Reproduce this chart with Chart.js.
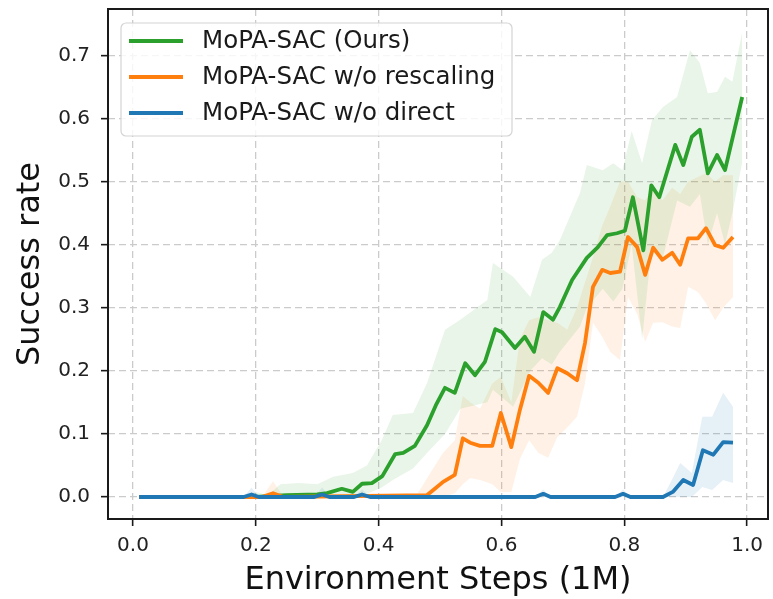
<!DOCTYPE html>
<html>
<head>
<meta charset="utf-8">
<script src="https://cdn.jsdelivr.net/npm/chart.js@4.4.1/dist/chart.umd.min.js"></script>
<style>
  html, body { margin: 0; padding: 0; background: #ffffff; }
  #wrap { width: 773px; height: 599px; }
</style>
</head>
<body>
<div id="wrap"><canvas id="c" width="773" height="599"></canvas></div>
<script>
// ---- axis ticks ----
const xTickValues = [0.0, 0.2, 0.4, 0.6, 0.8, 1.0];
const yTickValues = [0.0, 0.1, 0.2, 0.3, 0.4, 0.5, 0.6, 0.7];

// ---- series names ----
const seriesNames = ['MoPA-SAC (Ours)', 'MoPA-SAC w/o rescaling', 'MoPA-SAC w/o direct'];
const seriesColors = ['#2ca02c', '#ff7f0e', '#1f77b4'];

// ---- MoPA-SAC (Ours): mean curve (steps in millions) ----
const oursSteps = [0.01, 0.20, 0.25, 0.30, 0.316, 0.340, 0.358, 0.373, 0.389, 0.406, 0.427, 0.440, 0.459, 0.479, 0.493, 0.508, 0.524, 0.541, 0.557, 0.573, 0.590, 0.601, 0.622, 0.638, 0.653, 0.668, 0.684, 0.695, 0.715, 0.739, 0.757, 0.772, 0.788, 0.801, 0.814, 0.831, 0.844, 0.857, 0.883, 0.896, 0.910, 0.923, 0.936, 0.951, 0.964, 0.992];
const oursMean  = [0.000, 0.000, 0.003, 0.004, 0.006, 0.013, 0.008, 0.021, 0.022, 0.033, 0.068, 0.070, 0.081, 0.114, 0.145, 0.173, 0.165, 0.212, 0.193, 0.214, 0.266, 0.261, 0.236, 0.254, 0.230, 0.293, 0.281, 0.301, 0.344, 0.379, 0.396, 0.415, 0.418, 0.422, 0.475, 0.391, 0.494, 0.475, 0.558, 0.526, 0.571, 0.582, 0.513, 0.542, 0.518, 0.634];
// spread band
const oursBandSteps = [0.01, 0.18, 0.20, 0.22, 0.24, 0.27, 0.30, 0.326, 0.358, 0.381, 0.405, 0.423, 0.456, 0.479, 0.508, 0.533, 0.577, 0.586, 0.619, 0.647, 0.666, 0.682, 0.695, 0.728, 0.739, 0.765, 0.782, 0.797, 0.812, 0.829, 0.845, 0.863, 0.886, 0.907, 0.923, 0.936, 0.951, 0.964, 0.976, 0.992];
const oursUpper = [0.002, 0.002, 0.008, 0.003, 0.020, 0.022, 0.020, 0.032, 0.038, 0.050, 0.090, 0.130, 0.133, 0.181, 0.265, 0.281, 0.312, 0.371, 0.349, 0.317, 0.376, 0.387, 0.407, 0.482, 0.526, 0.518, 0.529, 0.518, 0.580, 0.529, 0.597, 0.618, 0.634, 0.708, 0.688, 0.640, 0.642, 0.666, 0.658, 0.737];
const oursLower = [0.000, 0.000, 0.000, 0.000, 0.000, 0.000, 0.000, 0.000, 0.000, 0.005, 0.015, 0.027, 0.045, 0.070, 0.100, 0.140, 0.150, 0.170, 0.143, 0.200, 0.220, 0.210, 0.230, 0.270, 0.300, 0.330, 0.310, 0.330, 0.400, 0.250, 0.400, 0.380, 0.470, 0.460, 0.480, 0.400, 0.450, 0.400, 0.450, 0.530];

// ---- MoPA-SAC w/o rescaling ----
const rescaleSteps = [0.01, 0.21, 0.228, 0.245, 0.479, 0.489, 0.505, 0.524, 0.537, 0.549, 0.565, 0.585, 0.599, 0.616, 0.630, 0.645, 0.660, 0.676, 0.691, 0.707, 0.723, 0.736, 0.749, 0.764, 0.777, 0.793, 0.806, 0.821, 0.834, 0.847, 0.862, 0.878, 0.891, 0.904, 0.920, 0.933, 0.948, 0.961, 0.977];
const rescaleMean  = [0.000, 0.000, 0.006, 0.000, 0.003, 0.011, 0.024, 0.035, 0.093, 0.086, 0.081, 0.081, 0.133, 0.079, 0.138, 0.192, 0.181, 0.165, 0.204, 0.196, 0.185, 0.244, 0.333, 0.360, 0.355, 0.357, 0.412, 0.396, 0.352, 0.395, 0.376, 0.387, 0.368, 0.410, 0.410, 0.426, 0.399, 0.395, 0.412];
const rescaleBandSteps = [0.01, 0.21, 0.228, 0.245, 0.46, 0.479, 0.505, 0.524, 0.537, 0.549, 0.565, 0.585, 0.599, 0.616, 0.630, 0.645, 0.660, 0.676, 0.691, 0.707, 0.723, 0.736, 0.749, 0.764, 0.777, 0.793, 0.806, 0.821, 0.834, 0.847, 0.862, 0.878, 0.891, 0.904, 0.920, 0.933, 0.948, 0.961, 0.977];
const rescaleUpper = [0.000, 0.000, 0.025, 0.000, 0.000, 0.030, 0.070, 0.090, 0.160, 0.150, 0.140, 0.180, 0.190, 0.150, 0.250, 0.280, 0.285, 0.280, 0.276, 0.265, 0.300, 0.340, 0.380, 0.430, 0.460, 0.500, 0.500, 0.475, 0.470, 0.490, 0.470, 0.490, 0.480, 0.500, 0.507, 0.513, 0.500, 0.510, 0.510];
const rescaleLower = [0.000, 0.000, 0.000, 0.000, 0.000, 0.000, 0.000, 0.006, 0.020, 0.030, 0.027, 0.020, 0.008, 0.008, 0.060, 0.090, 0.070, 0.062, 0.095, 0.110, 0.127, 0.180, 0.276, 0.254, 0.230, 0.217, 0.317, 0.290, 0.246, 0.276, 0.277, 0.270, 0.268, 0.333, 0.325, 0.307, 0.280, 0.300, 0.317];

// ---- MoPA-SAC w/o direct ----
const directSteps = [0.01, 0.18, 0.193, 0.205, 0.295, 0.308, 0.32, 0.36, 0.373, 0.386, 0.655, 0.668, 0.68, 0.785, 0.798, 0.81, 0.863, 0.879, 0.896, 0.912, 0.928, 0.945, 0.961, 0.977];
const directMean  = [0.000, 0.000, 0.004, 0.000, 0.000, 0.004, 0.000, 0.000, 0.004, 0.000, 0.000, 0.005, 0.000, 0.000, 0.005, 0.000, 0.000, 0.008, 0.027, 0.019, 0.074, 0.067, 0.087, 0.086];
const directBandSteps = [0.01, 0.18, 0.193, 0.205, 0.295, 0.308, 0.32, 0.36, 0.373, 0.386, 0.655, 0.668, 0.68, 0.785, 0.798, 0.81, 0.863, 0.879, 0.891, 0.910, 0.927, 0.943, 0.961, 0.977];
const directUpper = [0.000, 0.000, 0.015, 0.000, 0.000, 0.015, 0.000, 0.000, 0.012, 0.000, 0.000, 0.012, 0.000, 0.000, 0.012, 0.000, 0.000, 0.030, 0.054, 0.038, 0.127, 0.127, 0.165, 0.143];
const directLower = [0.000, 0.000, 0.000, 0.000, 0.000, 0.000, 0.000, 0.000, 0.000, 0.000, 0.000, 0.000, 0.000, 0.000, 0.000, 0.000, 0.000, 0.000, 0.000, 0.000, 0.016, 0.011, 0.027, 0.022];

// ---- helpers ----
function toPoints(xs, ys) {
  return xs.map((x, i) => ({ x: x, y: ys[i] }));
}
function hexToRgba(hex, a) {
  const n = parseInt(hex.slice(1), 16);
  return 'rgba(' + ((n >> 16) & 255) + ',' + ((n >> 8) & 255) + ',' + (n & 255) + ',' + a + ')';
}
function bandPair(xs, up, lo, color) {
  return [
    { data: toPoints(xs, up), borderWidth: 0, pointRadius: 0, fill: '+1',
      backgroundColor: hexToRgba(color, 0.11), order: 10, isBand: true },
    { data: toPoints(xs, lo), borderWidth: 0, pointRadius: 0, fill: false,
      backgroundColor: 'transparent', order: 10, isBand: true }
  ];
}
function meanLine(label, xs, ys, color, order) {
  return { label: label, data: toPoints(xs, ys), borderColor: color, backgroundColor: color,
           borderWidth: 3.8, pointRadius: 0, fill: false, tension: 0,
           borderJoinStyle: 'round', borderCapStyle: 'butt', order: order };
}

const datasets = [
  ...bandPair(oursBandSteps, oursUpper, oursLower, seriesColors[0]),
  ...bandPair(rescaleBandSteps, rescaleUpper, rescaleLower, seriesColors[1]),
  ...bandPair(directBandSteps, directUpper, directLower, seriesColors[2]),
  meanLine(seriesNames[0], oursSteps, oursMean, seriesColors[0], 3),
  meanLine(seriesNames[1], rescaleSteps, rescaleMean, seriesColors[1], 2),
  meanLine(seriesNames[2], directSteps, directMean, seriesColors[2], 1)
];

const FONT = '"DejaVu Sans", "Liberation Sans", sans-serif';

// in-plot legend box (upper left), drawn over the curves
const insideLegend = {
  id: 'insideLegend',
  afterDatasetsDraw(chart) {
    const ctx = chart.ctx;
    const lines = chart.data.datasets.filter(d => !d.isBand);
    const bx = 121, by = 23, bw = 391, bh = 113, r = 5;
    ctx.save();
    ctx.beginPath();
    ctx.moveTo(bx + r, by);
    ctx.arcTo(bx + bw, by, bx + bw, by + bh, r);
    ctx.arcTo(bx + bw, by + bh, bx, by + bh, r);
    ctx.arcTo(bx, by + bh, bx, by, r);
    ctx.arcTo(bx, by, bx + bw, by, r);
    ctx.closePath();
    ctx.fillStyle = 'rgba(255,255,255,0.82)';
    ctx.fill();
    ctx.strokeStyle = '#d4d4d4';
    ctx.lineWidth = 1.2;
    ctx.stroke();
    ctx.font = '24.5px ' + FONT;
    ctx.textBaseline = 'middle';
    ctx.textAlign = 'left';
    lines.forEach((d, i) => {
      const y = 41 + i * 36;
      ctx.beginPath();
      ctx.moveTo(129, y);
      ctx.lineTo(183, y);
      ctx.strokeStyle = d.borderColor;
      ctx.lineWidth = 3.8;
      ctx.stroke();
      ctx.fillStyle = '#1a1a1a';
      ctx.fillText(d.label, 202, y + 1);
    });
    ctx.restore();
  }
};

// black frame round the plotting area
const frame = {
  id: 'frame',
  afterDraw(chart) {
    const a = chart.chartArea;
    const ctx = chart.ctx;
    ctx.save();
    ctx.strokeStyle = '#1a1a1a';
    ctx.lineWidth = 2;
    ctx.strokeRect(a.left, a.top, a.right - a.left, a.bottom - a.top);
    ctx.restore();
  }
};

new Chart(document.getElementById('c'), {
  type: 'line',
  data: { datasets: datasets },
  plugins: [insideLegend, frame],
  options: {
    responsive: false,
    animation: false,
    devicePixelRatio: 1,
    layout: { padding: { left: 0, top: 9, right: 5, bottom: 0 } },
    plugins: { legend: { display: false }, tooltip: { enabled: false },
               filler: { propagate: false } },
    scales: {
      x: {
        type: 'linear',
        min: -0.0407, max: 1.034,
        afterBuildTicks(scale) { scale.ticks = xTickValues.map(v => ({ value: v })); },
        afterFit(scale) { scale.height = 80; scale.paddingLeft = 0; scale.paddingRight = 0; },
        ticks: { callback: v => v.toFixed(1), color: '#222', padding: 8,
                 font: { family: FONT, size: 20 }, maxRotation: 0, autoSkip: false },
        grid: { color: '#cbcbcb', lineWidth: 1.3, drawTicks: true, tickLength: 7,
                tickColor: '#1a1a1a', tickWidth: 1.6, tickBorderDash: [] },
        border: { display: false, dash: [7, 4] },
        title: { display: true, text: 'Environment Steps (1M)', color: '#111',
                 font: { family: FONT, size: 32, lineHeight: 1.13 }, padding: 0 }
      },
      y: {
        type: 'linear',
        min: -0.0349, max: 0.7734,
        afterBuildTicks(scale) { scale.ticks = yTickValues.map(v => ({ value: v })); },
        afterFit(scale) { scale.width = 108; scale.paddingTop = 0; scale.paddingBottom = 0; },
        ticks: { callback: v => v.toFixed(1), color: '#222', padding: 11,
                 font: { family: FONT, size: 20 }, autoSkip: false },
        grid: { color: '#cbcbcb', lineWidth: 1.3, drawTicks: true, tickLength: 7,
                tickColor: '#1a1a1a', tickWidth: 1.6, tickBorderDash: [] },
        border: { display: false, dash: [7, 4] },
        title: { display: true, text: 'Success rate', color: '#111',
                 font: { family: FONT, size: 32, lineHeight: 1.2 }, padding: { top: 11, bottom: 0 } }
      }
    }
  }
});
</script>
</body>
</html>
